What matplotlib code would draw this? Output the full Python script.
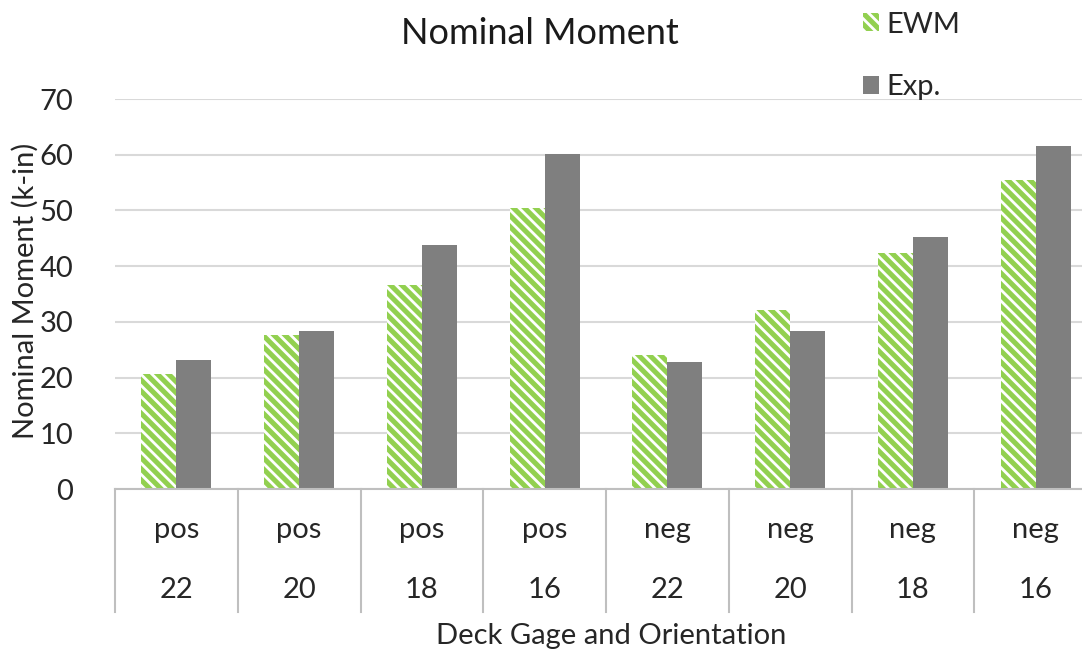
import matplotlib
matplotlib.use("Agg")
import matplotlib.pyplot as plt
import matplotlib.transforms as mtransforms
from matplotlib.patches import Patch
import numpy as np

orientations = ["pos", "pos", "pos", "pos", "neg", "neg", "neg", "neg"]
gages = ["22", "20", "18", "16", "22", "20", "18", "16"]
ewm = [20.7, 27.6, 36.7, 50.5, 24.0, 32.1, 42.4, 55.5]
exp = [23.2, 28.4, 43.8, 60.1, 22.8, 28.4, 45.2, 61.5]
yticks = [0, 10, 20, 30, 40, 50, 60, 70]

plt.rcParams['font.family'] = ['Lato', 'DejaVu Sans']
plt.rcParams['hatch.linewidth'] = 2.0

W, H = 1082, 651
fig = plt.figure(figsize=(W / 100, H / 100), dpi=100)
left = 115 / W
bottom = (H - 489) / H
top = (H - 99) / H
ax = fig.add_axes([left, bottom, 1.0 - left, top - bottom])

x = np.arange(len(ewm))
bw = 0.285
ax.bar(x - bw / 2, ewm, width=bw, color="#92D050", edgecolor="white",
       hatch="\\\\\\", linewidth=0, label="EWM")
ax.bar(x + bw / 2, exp, width=bw, color="#7F7F7F", linewidth=0, label="Exp.")

ax.set_ylim(0, 70)
xright = 7.5 - (1097 - 1082) / 122.6
ax.set_xlim(-0.5, xright)
ax.set_yticks(yticks)
ax.tick_params(axis="y", length=0, labelsize=21, colors="#262626", pad=30)
ax.set_xticks([])
ax.grid(axis="y", color="#D9D9D9", linewidth=1.5)
ax.set_axisbelow(True)
for s in ["left", "right", "top"]:
    ax.spines[s].set_visible(False)
ax.spines["bottom"].set_color("#BFBFBF")
ax.spines["bottom"].set_linewidth(1.5)

trans = mtransforms.blended_transform_factory(ax.transData, ax.transAxes)
for b in np.arange(-0.5, len(ewm), 1.0):
    ax.plot([b, b], [0, -0.315], transform=trans, clip_on=False,
            color="#BFBFBF", linewidth=1.5)
for i in x:
    ax.text(i, -0.105, orientations[i], transform=trans, ha="center",
            va="center", fontsize=21, color="#262626")
    ax.text(i, -0.259, gages[i], transform=trans, ha="center",
            va="center", fontsize=21, color="#262626")

fig.text(611 / W, 1 - 636 / H, "Deck Gage and Orientation", ha="center",
         va="center", fontsize=21, color="#262626")
fig.text(25 / W, 1 - 291 / H, "Nominal Moment (k-in)", ha="center",
         va="center", rotation=90, fontsize=21, color="#262626")
fig.text(540 / W, 1 - 33 / H, "Nominal Moment", ha="center", va="center",
         fontsize=26, color="#1a1a1a")

handles = [Patch(facecolor="#92D050", edgecolor="white", hatch="\\\\\\", linewidth=0),
           Patch(facecolor="#7F7F7F", linewidth=0)]
fig.legend(handles, ["EWM", "Exp."], loc="upper left",
           bbox_to_anchor=(848 / W, 1 + 3 / H), frameon=False, fontsize=21,
           borderpad=0, labelspacing=1.25, handlelength=0.55, handleheight=0.55,
           handletextpad=0.25, labelcolor="#262626")

fig.savefig("out.png", dpi=100)
